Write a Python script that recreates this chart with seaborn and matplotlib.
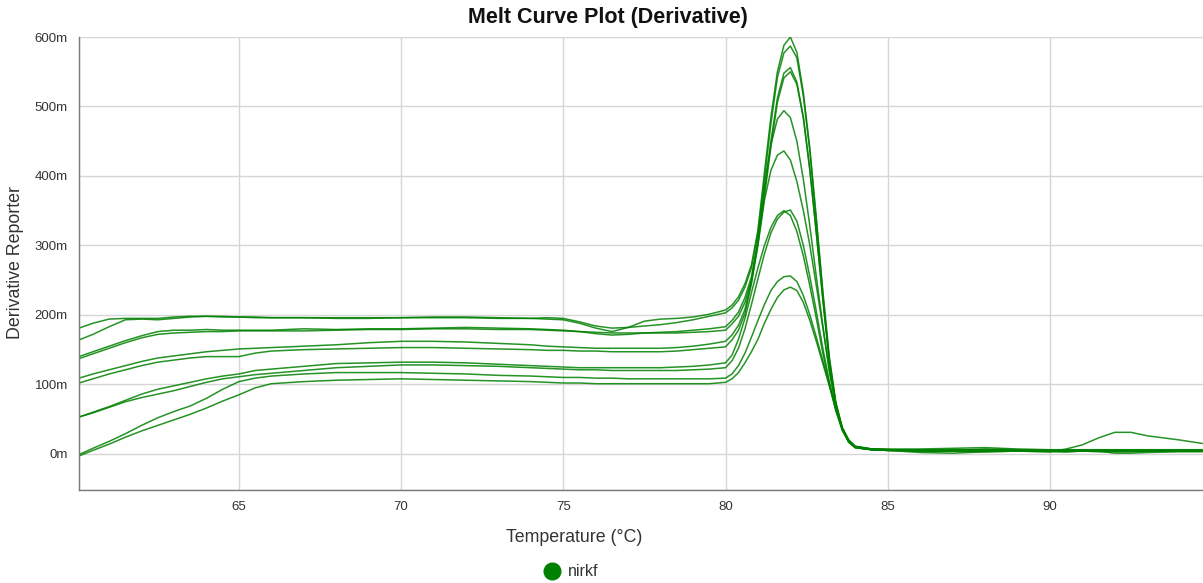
import numpy as np
import pandas as pd
import matplotlib
matplotlib.use("Agg")
import matplotlib.pyplot as plt
from matplotlib.lines import Line2D
import seaborn as sns

# Shared temperature grid (°C)
temperature = [
    60.07, 60.5, 61, 61.5, 62, 62.5, 63, 63.5, 64, 64.5, 65, 65.5, 66,
    67, 68, 69, 70, 71, 72, 73, 74,
    74.5, 75, 75.5, 76, 76.5, 77, 77.5, 78, 78.5, 79, 79.5,
    80.0, 80.2, 80.4, 80.6, 80.8, 81.0, 81.2, 81.4, 81.6, 81.8, 82.0,
    82.2, 82.4, 82.6, 82.8, 83.0, 83.2, 83.4, 83.6, 83.8, 84.0,
    84.5, 85, 86, 87, 88, 89, 90, 90.5, 91, 91.5, 92, 92.5, 93, 94, 94.7,
]

# Derivative reporter per well (milli-units)
well_01 = [181, 188, 194, 195, 195, 195, 197, 198, 198, 197, 197, 196, 196,
           196, 196, 196, 196, 197, 197, 196, 195,
           194, 193, 188, 181, 176, 182, 191, 194, 195, 197, 201,
           207, 214, 226, 245, 272, 322, 405, 485, 550, 588, 600,
           578, 520, 440, 340, 235, 140, 75, 38, 18, 10,
           7, 6, 5, 5, 6, 5, 4, 4, 4, 5, 5, 5, 4, 4, 4]
well_02 = [164, 172, 183, 193, 194, 193, 195, 197, 198, 198, 197, 197, 196,
           196, 195, 195, 196, 196, 196, 195, 195,
           196, 195, 190, 184, 181, 182, 184, 186, 189, 193, 198,
           203, 210, 221, 240, 268, 318, 395, 475, 542, 577, 587,
           570, 515, 435, 335, 230, 135, 72, 36, 17, 10,
           7, 6, 4, 5, 7, 6, 5, 5, 5, 4, 4, 4, 4, 4, 4]
well_03 = [140, 147, 155, 163, 170, 176, 178, 178, 179, 178, 178, 178, 178,
           180, 179, 180, 180, 181, 182, 181, 180,
           179, 178, 176, 173, 171, 172, 174, 175, 176, 178, 180,
           183, 192, 204, 225, 255, 308, 378, 450, 512, 548, 556,
           535, 485, 410, 318, 222, 132, 70, 35, 17, 9,
           6, 5, 5, 4, 5, 5, 4, 4, 5, 5, 4, 4, 5, 5, 5]
well_04 = [137, 144, 152, 160, 167, 172, 174, 175, 176, 176, 177, 177, 177,
           177, 178, 179, 179, 180, 180, 179, 179,
           178, 177, 176, 175, 174, 174, 174, 174, 174, 175, 176,
           178, 187, 198, 218, 250, 303, 370, 442, 506, 541, 550,
           532, 483, 408, 318, 224, 135, 72, 36, 17, 9,
           6, 5, 6, 6, 5, 4, 4, 3, 4, 5, 5, 5, 5, 5, 5]
well_05 = [109, 115, 121, 127, 133, 138, 141, 144, 147, 149, 151, 152, 153,
           155, 157, 160, 162, 162, 161, 159, 157,
           155, 154, 153, 152, 152, 152, 152, 152, 153, 155, 158,
           162, 171, 185, 208, 248, 305, 385, 445, 482, 494, 484,
           450, 395, 328, 255, 185, 118, 68, 35, 17, 9,
           6, 5, 4, 4, 3, 4, 5, 5, 5, 5, 5, 4, 4, 4, 4]
well_06 = [102, 108, 115, 121, 127, 132, 135, 138, 140, 140, 140, 145, 148,
           150, 151, 152, 153, 153, 152, 151, 150,
           149, 149, 148, 148, 147, 147, 147, 147, 148, 150, 152,
           154, 164, 178, 202, 245, 300, 365, 408, 430, 436, 423,
           392, 350, 300, 242, 182, 122, 72, 37, 18, 10,
           6, 5, 2, 1, 3, 4, 4, 5, 5, 4, 1, 1, 2, 3, 3]
well_07 = [53, 60, 68, 77, 86, 93, 98, 103, 108, 112, 115, 120, 122,
           126, 130, 131, 132, 132, 131, 129, 127,
           126, 125, 124, 124, 124, 124, 124, 124, 125, 126, 128,
           131, 142, 165, 195, 232, 268, 300, 326, 343, 350, 343,
           320, 285, 242, 195, 145, 100, 62, 34, 18, 10,
           7, 7, 7, 8, 9, 7, 6, 6, 6, 6, 6, 6, 6, 6, 6]
well_08 = [53, 59, 67, 75, 81, 86, 91, 97, 103, 108, 111, 114, 116,
           120, 124, 126, 128, 128, 127, 126, 124,
           123, 122, 121, 121, 120, 120, 120, 120, 120, 121, 122,
           124, 134, 152, 180, 215, 252, 288, 318, 338, 348, 351,
           335, 300, 255, 205, 152, 104, 64, 34, 17, 9,
           6, 5, 4, 4, 4, 4, 3, 3, 4, 5, 5, 5, 5, 5, 5]
well_09 = [-1, 8, 18, 29, 41, 52, 61, 69, 80, 93, 104, 109, 112,
           115, 117, 117, 117, 116, 115, 113, 112,
           111, 110, 110, 109, 109, 108, 108, 108, 108, 108, 108,
           109, 115, 127, 145, 168, 192, 215, 235, 248, 255, 256,
           248, 228, 200, 168, 134, 100, 66, 38, 20, 11,
           7, 6, 4, 5, 6, 4, 3, 7, 13, 23, 31, 31, 26, 20, 15]
well_10 = [-3, 5, 14, 24, 33, 41, 49, 57, 66, 76, 85, 95, 101,
           104, 106, 107, 108, 107, 106, 105, 104,
           103, 102, 102, 101, 101, 101, 101, 101, 101, 101, 101,
           103, 108, 117, 131, 147, 165, 188, 208, 225, 236, 240,
           235, 218, 192, 162, 130, 98, 64, 37, 20, 11,
           7, 6, 5, 5, 5, 5, 4, 4, 4, 3, 3, 3, 4, 4, 4]

wells = {
    "W01": well_01, "W02": well_02, "W03": well_03, "W04": well_04,
    "W05": well_05, "W06": well_06, "W07": well_07, "W08": well_08,
    "W09": well_09, "W10": well_10,
}
target_name = "nirkf"
x_ticks = [65, 70, 75, 80, 85, 90]
y_ticks = [0, 100, 200, 300, 400, 500, 600]

df = pd.concat(
    [pd.DataFrame({"Temperature": temperature, "Derivative": vals, "Well": name})
     for name, vals in wells.items()],
    ignore_index=True,
)

sns.set_style("whitegrid", {"grid.color": "#d6d6d6", "axes.edgecolor": "#7a7a7a"})
plt.rcParams["font.family"] = ["Liberation Sans", "DejaVu Sans"]

W, H = 1203, 583
fig = plt.figure(figsize=(W / 100, H / 100), dpi=100)
ax = fig.add_axes([79 / W, 1 - 490 / H, 1 - 79 / W, (490 - 37) / H])
ax.set_axisbelow(True)

line_green = "#008000"
sns.lineplot(data=df, x="Temperature", y="Derivative", units="Well",
             estimator=None, sort=False, color=line_green, linewidth=1.1,
             alpha=0.85, legend=False, ax=ax)

x_min, x_max = 60.07, 94.72
y_min, y_max = -52, 600
ax.set_xlim(x_min, x_max)
ax.set_ylim(y_min, y_max)

# outer ticks at the domain ends, like a d3 axis
ax.set_xticks([x_min] + x_ticks)
ax.set_xticklabels([""] + [str(t) for t in x_ticks])
ax.set_yticks([y_min] + y_ticks)
ax.set_yticklabels([""] + [f"{t}m" for t in y_ticks])

ax.grid(True, color="#d6d6d6", linewidth=1.0)
for side in ("top", "right"):
    ax.spines[side].set_visible(False)
for side in ("left", "bottom"):
    ax.spines[side].set_color("#7a7a7a")
    ax.spines[side].set_linewidth(1.0)
ax.tick_params(axis="both", which="major", length=6, width=1.0, color="#7a7a7a",
               labelcolor="#333333", labelsize=9.5, direction="out", pad=2)

ax.set_xlabel("")
ax.set_ylabel("")

fig.text(608 / W, 1 - 17 / H, "Melt Curve Plot (Derivative)", ha="center",
         va="center", fontsize=15.5, fontweight="bold", color="#111111")
fig.text(574 / W, 1 - 538 / H, "Temperature (°C)", ha="center", va="center",
         fontsize=12.8, color="#333333")
fig.text(16 / W, 1 - 262 / H, "Derivative Reporter", ha="center", va="center",
         rotation=90, fontsize=12.8, color="#333333")

handle = Line2D([], [], marker="o", linestyle="", markersize=12,
                markerfacecolor=line_green, markeredgecolor=line_green)
fig.legend([handle], [target_name], loc="center",
           bbox_to_anchor=(571 / W, 1 - 572 / H), frameon=False,
           fontsize=11.5, handletextpad=0.45, borderpad=0, handlelength=1.1,
           labelcolor="#333333")

fig.savefig("out.png", dpi=100)
